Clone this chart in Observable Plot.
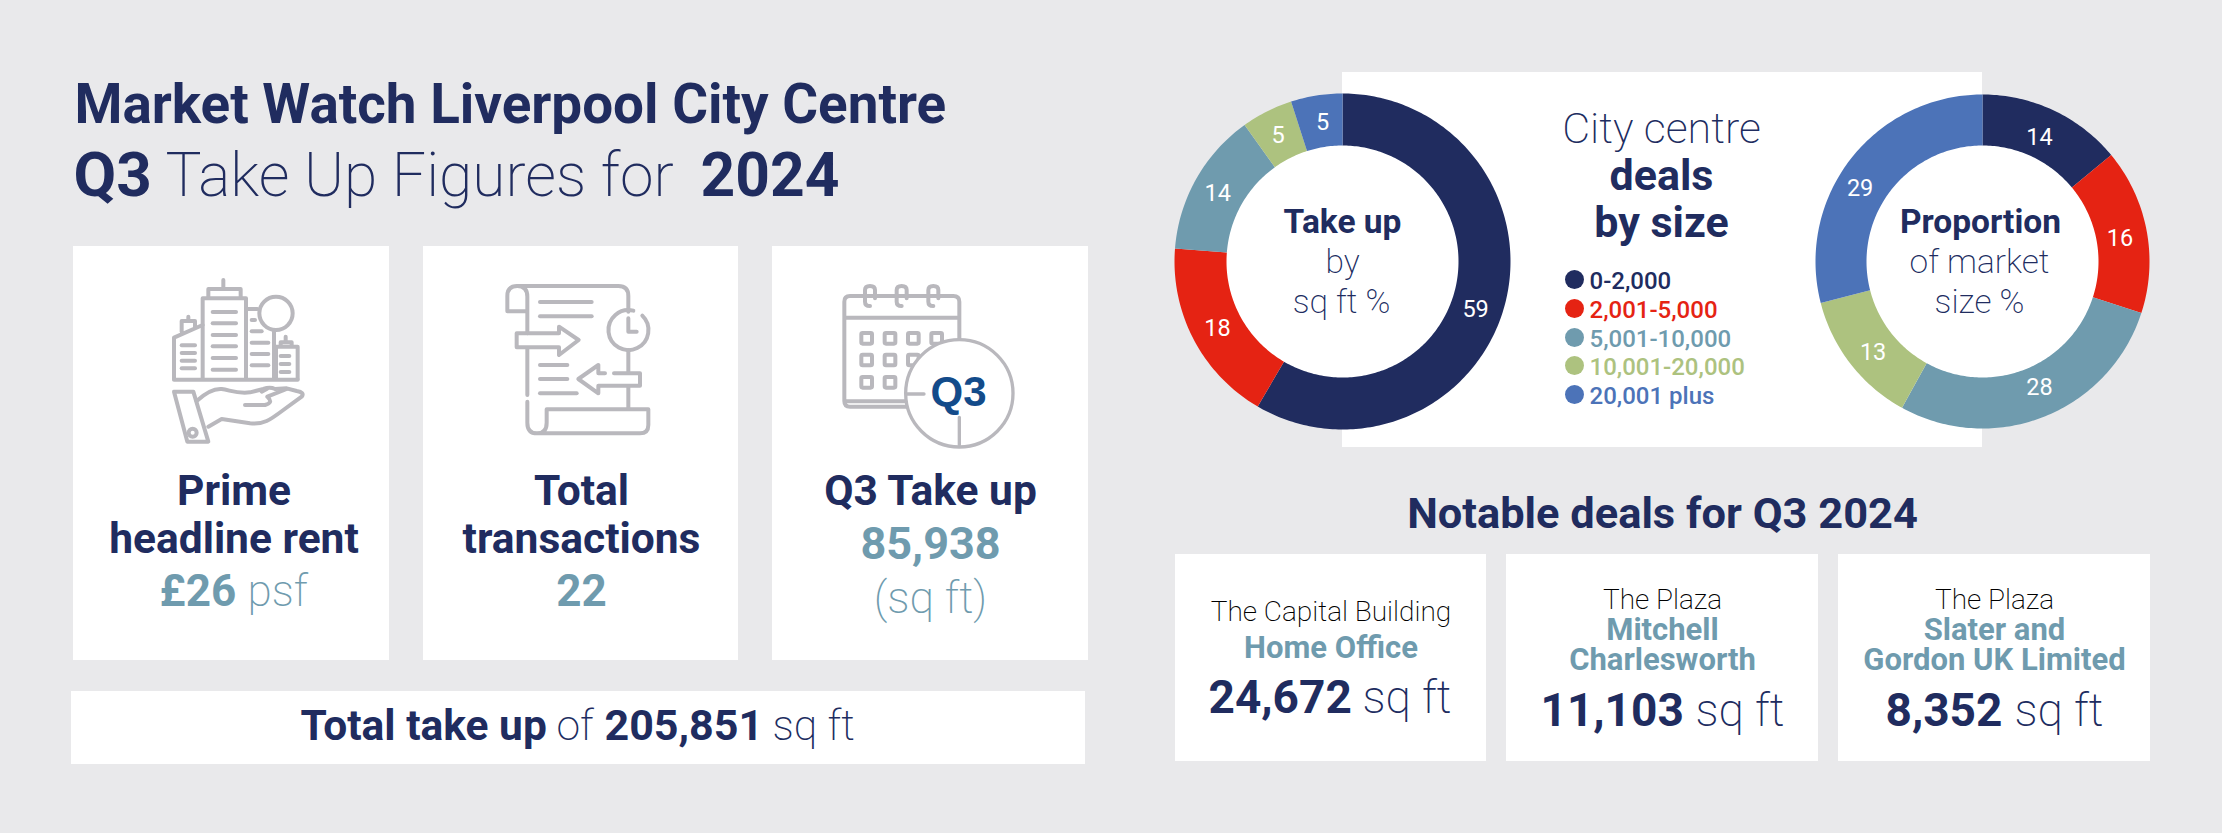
<!DOCTYPE html>
<html><head><meta charset="utf-8">
<script src="https://cdn.jsdelivr.net/npm/d3@7"></script>
<script src="https://cdn.jsdelivr.net/npm/@observablehq/plot@0.6"></script>
<style>html,body{margin:0;padding:0;background:#e9e9eb;overflow:hidden}svg{display:block}</style>
</head><body><div id="chart"></div>
<script>
// ---- data ----
const sizeBands = ["0-2,000","2,001-5,000","5,001-10,000","10,001-20,000","20,001 plus"];
const takeUpPct = [59,18,14,5,5];
const marketPct = [14,16,28,13,29];
const bandColors = ["#202c5f","#e52313","#6f9bae","#adc27f","#4c73b8"];
const titleLine1 = "Market Watch Liverpool City Centre";
const kpiHeads = [["Prime","headline rent"],["Total","transactions"],["Q3 Take up"]];
const totalTakeUp = "205,851";
const dealPlaces = ["The Capital Building","The Plaza","The Plaza"];
const dealTenants = [["Home Office"],["Mitchell","Charlesworth"],["Slater and","Gordon UK Limited"]];
const dealAreas = ["24,672","11,103","8,352"];

// ---- layout ----
const W = 2222, H = 833;
const NAVY = "#202c5f", TEAL = "#6f9bae", GREY = "#b9b8bd", THIN = 200;
const panels = [
  {x1:73,x2:389,y1:246,y2:660},{x1:423,x2:738,y1:246,y2:660},{x1:772,x2:1088,y1:246,y2:660},
  {x1:71,x2:1085,y1:691,y2:764},{x1:1342,x2:1982,y1:72,y2:447},
  {x1:1175,x2:1486,y1:554,y2:761},{x1:1506,x2:1818,y1:554,y2:761},{x1:1838,x2:2150,y1:554,y2:761}
];
const holes = [{x:1342,y:261},{x:1982,y:261}];
function ring(values, cx, cy, ro, ri){
  const total = d3.sum(values); let acc = 0; const rows = [];
  values.forEach((v,i)=>{
    const a0 = acc/total*2*Math.PI, a1 = (acc+v)/total*2*Math.PI; acc += v;
    const n = Math.max(2, Math.ceil((a1-a0)/(Math.PI/180)));
    const arc = d3.range(n+1).map(k=>a0+(a1-a0)*k/n);
    arc.forEach(a=>rows.push({band:sizeBands[i],x:cx+ro*Math.sin(a),y:cy-ro*Math.cos(a)}));
    arc.slice().reverse().forEach(a=>rows.push({band:sizeBands[i],x:cx+ri*Math.sin(a),y:cy-ri*Math.cos(a)}));
  });
  return rows;
}
function ringLabels(values, cx, cy, r, nudges){
  const total = d3.sum(values); let acc = 0;
  return values.map((v,i)=>{
    const a = (acc+v/2)/total*2*Math.PI; acc += v;
    return {t:String(v),x:cx+r*Math.sin(a)+nudges[i][0],y:cy-r*Math.cos(a)+nudges[i][1]};
  });
}
const T = (t,x,y,size,weight,fill,anchor="middle") =>
  Plot.text([{t,x,y}],{x:"x",y:"y",text:"t",fontSize:size,fontWeight:weight,fill,textAnchor:anchor,lineAnchor:"bottom",fontFamily:"Roboto"});

const iconStyle = `fill="none" stroke="${GREY}" stroke-width="12" stroke-linecap="round" stroke-linejoin="round"`;
const icon = (tx,ty,body) => () => {
  const g = d3.create("svg:g").attr("transform",`translate(${tx},${ty}) scale(${1/3})`);
  g.html(`<g ${iconStyle}>${body}</g>`);
  return g.node();
};
const winLines = (x1,x2,ys) => ys.map(y=>`<path d="M${x1} ${y}H${x2}"/>`).join("");
const iconCity = `
 <path d="M220 45V68M175 98V72H272V98"/>
 <path d="M158 342V100H288V342"/>
 ${winLines(188,258,[141,175,210,244,279,314])}
 <path d="M288 132H322M372 200V342M305 165H315"/>
 ${winLines(305,335,[199])}${winLines(305,355,[233,267,301])}
 <circle cx="378" cy="145" r="50"/>
 <path d="M378 342V245H443V342M407 215V232M392 245V232H425V245"/>
 ${winLines(392,418,[273,297,321])}
 <path d="M72 342V218L158 180M95 200V168H135V190M115 155V168"/>
 ${winLines(95,135,[241,264,287,310])}
 <path d="M72 344H443"/>
 <path d="M72 380H130L175 530H112Z"/><circle cx="128" cy="503" r="12"/>
 <path d="M140 408C165 385 190 370 215 372C240 375 260 387 300 382L340 372Q360 365 375 372L410 370L440 378Q465 382 455 395L400 435C360 465 340 480 300 475L215 462L175 485"/>
 <path d="M285 420H345C362 415 366 408 352 395M352 395L410 372M335 380L350 372"/>`;
const iconDoc = `
 <path d="M110 124H52V78Q52 48 82 48H385Q415 48 415 78V125"/>
 <path d="M82 48Q112 48 112 80V190M112 235V375M112 395V458Q112 490 141 490Q170 490 170 458V418H475V465Q475 490 450 490H141"/>
 ${winLines(150,305,[96,139])}${winLines(150,232,[285,327])}${winLines(150,260,[370])}
 <path d="M430 122A60 60 0 1 0 457 137"/>
 <path d="M415 145V185H440M415 240V305M415 350V415"/>
 <path d="M207 190V170L266 210L207 255V232H80V190Z"/>
 <path d="M372 310H450V347H325V370L265 327L325 285V310H345"/>`;
const cols = [110,180,250,320], rows3 = [205,270,337];
const squares = rows3.flatMap((y,r)=>cols.slice(0,[4,3,2][r]).map(x=>`<rect x="${x-16}" y="${y-16}" width="32" height="32" rx="4"/>`)).join("");
const rings = [120,215,310].map(x=>`<path d="M${x+15} 85V60Q${x+15} 48 ${x} 48Q${x-15} 48 ${x-15} 60V95Q${x-15} 108 ${x} 108"/>`).join("");
const iconCal = `
 <path d="M388 215V95Q388 78 370 78H60Q43 78 43 95V393Q43 410 60 410H228M43 143H388M50 394H228"/>
 ${rings}${squares}
 <circle cx="388" cy="370" r="161" fill="#fff" stroke-width="10"/>
 <path d="M232 372H282M388 442V525" stroke-width="10"/>`;

// ---- rows drawn through the scales ----
const legendRows = sizeBands.map((band,i)=>({band,order:i}));
const legendY = [279,308,337,365,394];
const slices = [ring(takeUpPct,1342,261,168,116), ring(marketPct,1982,261,167,116)];
const labelRows = [
  ...ringLabels(takeUpPct,1342,261,141,[[-3,11],[0,2],[-2,1],[-1,0],[2,0]]),
  ...ringLabels(marketPct,1982,261,141,[[-3,4],[-1,3],[5,-5],[2,5],[-11,13]])
];
const kpiX = [233.5,581,930];
const dealX = [1330.5,1662,1994];

const marks = [
  Plot.rect(panels,{x1:"x1",x2:"x2",y1:"y1",y2:"y2",fill:"#ffffff"}),
  Plot.dot(holes,{x:"x",y:"y",r:118,fill:"#ffffff",stroke:"none"}),
  Plot.line(slices[0],{x:"x",y:"y",z:"band",fill:"band",stroke:"none"}),
  Plot.line(slices[1],{x:"x",y:"y",z:"band",fill:"band",stroke:"none"}),
  Plot.text(labelRows,{x:"x",y:"y",text:"t",fill:"#ffffff",fontSize:23.5,fontWeight:400,fontFamily:"Roboto"}),
  // title
  T(titleLine1,74,122,54.8,700,NAVY,"start"),
  T("Q3",73,195,62,700,NAVY,"start"),
  T("Take Up Figures for",165,195,60.4,THIN,NAVY,"start"),
  T("2024",700,195,60.5,700,NAVY,"start"),
  // icons
  icon(150,265,iconCity), icon(490,270,iconDoc), icon(830,270,iconCal),
  Plot.text([{t:"Q3",x:958,y:405}],{x:"x",y:"y",text:"t",fontSize:42,fontWeight:700,fill:"#134b8a",lineAnchor:"bottom",fontFamily:"Liberation Sans"}),
  // KPI cards
  T(kpiHeads[0][0],kpiX[0],504,42.5,700,NAVY), T(kpiHeads[0][1],kpiX[0],552,42.5,700,NAVY),
  T("£26",159,605,44,700,TEAL,"start"), T("psf",247,605,44,THIN,TEAL,"start"),
  T(kpiHeads[1][0],kpiX[1],504,42.5,700,NAVY), T(kpiHeads[1][1],kpiX[1],552,42.5,700,NAVY),
  T("22",kpiX[1],605,44,700,TEAL),
  T(kpiHeads[2][0],kpiX[2],504,42.5,700,NAVY),
  T("85,938",kpiX[2],558,45,700,TEAL), T("(sq ft)",kpiX[2],612,44.5,THIN,TEAL),
  // total bar
  T("Total take up",300,739,42.5,700,NAVY,"start"), T("of",556,739,42.5,THIN,NAVY,"start"),
  T(totalTakeUp,604,739,43,700,NAVY,"start"), T("sq ft",772,739,42.5,THIN,NAVY,"start"),
  // middle block
  T("City centre",1661,142,43,THIN,NAVY), T("deals",1661,189,43,700,NAVY), T("by size",1661,236,43,700,NAVY),
  Plot.dot(legendRows,{x:()=>1574,y:d=>legendY[d.order],r:9.5,fill:"band",stroke:"none"}),
  Plot.text(legendRows,{x:()=>1589,y:d=>legendY[d.order]+9,text:"band",fill:"band",fontSize:24,fontWeight:500,textAnchor:"start",lineAnchor:"bottom",fontFamily:"Roboto"}),
  // donut centres
  T("Take up",1342,232,33.5,700,NAVY), T("by",1342,272,33.5,THIN,NAVY), T("sq ft %",1341,312,33.5,THIN,NAVY),
  T("Proportion",1980,232,33.5,700,NAVY), T("of market",1979,272,33.5,THIN,NAVY), T("size %",1979,312,33.5,THIN,NAVY),
  // notable deals
  T("Notable deals for Q3 2024",1662,527,43.4,700,NAVY),
  T(dealPlaces[0],dealX[0],620,28,THIN,"#000000"), T(dealTenants[0][0],dealX[0],657,31,700,TEAL),
  T(dealAreas[0],1208,712,46,700,NAVY,"start"), T("sq ft",1362,712,46,THIN,NAVY,"start"),
  T(dealPlaces[1],dealX[1],608,28,THIN,"#000000"), T(dealTenants[1][0],dealX[1],639,31,700,TEAL), T(dealTenants[1][1],dealX[1],669,31,700,TEAL),
  T(dealAreas[1],1540,725,46,700,NAVY,"start"), T("sq ft",1695,725,46,THIN,NAVY,"start"),
  T(dealPlaces[2],dealX[2],608,28,THIN,"#000000"), T(dealTenants[2][0],dealX[2],639,31,700,TEAL), T(dealTenants[2][1],dealX[2],669,31,700,TEAL),
  T(dealAreas[2],1885,725,46,700,NAVY,"start"), T("sq ft",2014,725,46,THIN,NAVY,"start")
];

const chart = Plot.plot({
  width:W, height:H, margin:0,
  x:{domain:[0,W],range:[0,W],axis:null},
  y:{domain:[0,H],range:[0,H],axis:null},
  color:{type:"ordinal",domain:sizeBands,range:bandColors},
  style:{background:"transparent",fontFamily:"Roboto"},
  marks
});
document.getElementById("chart").append(chart);
</script></body></html>
